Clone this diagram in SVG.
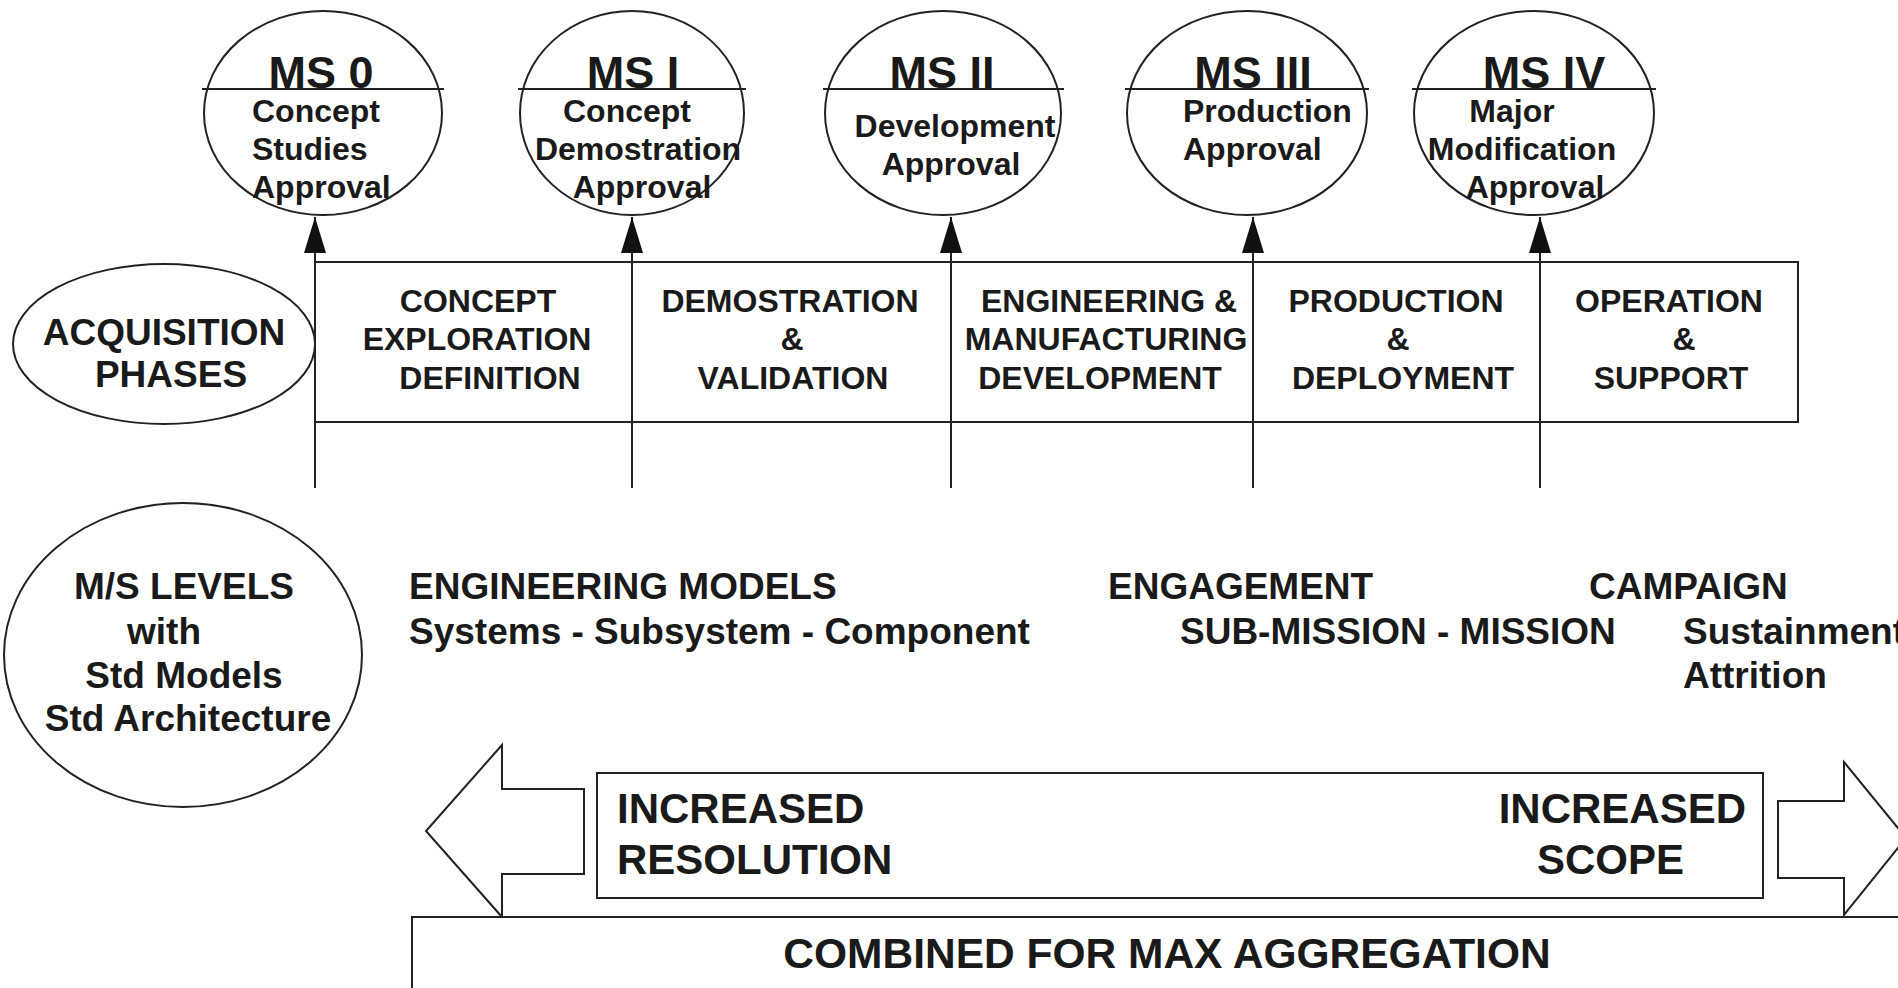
<svg xmlns="http://www.w3.org/2000/svg" width="1898" height="988" viewBox="0 0 1898 988">
<style>
.t{font-family:"Liberation Sans",Arial,Helvetica,sans-serif;font-weight:bold;fill:#1a1a1a}
.ms{font-size:45px;text-anchor:middle}
.sub{font-size:32px}
.c{text-anchor:middle}
.ph{font-size:32px;text-anchor:middle}
.lvl{font-size:37px;text-anchor:middle}
.mid{font-size:37px}
.big{font-size:42px}
.sh{fill:#fff;stroke:#222;stroke-width:2}
.ln{stroke:#222;stroke-width:2;fill:none}
</style>
<defs>
<marker id="ah" markerUnits="userSpaceOnUse" markerWidth="36" markerHeight="22" viewBox="0 0 36 22" refX="36" refY="11" orient="auto">
<path d="M0,0 L36,11 L0,22 z" fill="#111"/>
</marker>
</defs>
<rect width="1898" height="988" fill="#fff"/>

<g id="ms0">
<ellipse class="sh" cx="323" cy="113" rx="119" ry="102"/>
<line class="ln" x1="202" y1="89" x2="444" y2="89"/>
<text class="t ms" x="321" y="88">MS 0</text>
<text class="t sub" x="252" y="122">Concept</text>
<text class="t sub" x="252" y="160">Studies</text>
<text class="t sub" x="252" y="198">Approval</text>
</g>
<g id="ms1">
<ellipse class="sh" cx="632" cy="113" rx="112" ry="102"/>
<line class="ln" x1="518" y1="89" x2="746" y2="89"/>
<text class="t ms" x="633" y="88">MS I</text>
<text class="t sub c" x="627" y="122">Concept</text>
<text class="t sub c" x="638" y="160">Demostration</text>
<text class="t sub c" x="642" y="198">Approval</text>
</g>
<g id="ms2">
<ellipse class="sh" cx="943" cy="113" rx="118" ry="102"/>
<line class="ln" x1="823" y1="89" x2="1064" y2="89"/>
<text class="t ms" x="942" y="88">MS II</text>
<text class="t sub c" x="955" y="137">Development</text>
<text class="t sub c" x="951" y="175">Approval</text>
</g>
<g id="ms3">
<ellipse class="sh" cx="1247" cy="113" rx="120" ry="102"/>
<line class="ln" x1="1125" y1="89" x2="1369" y2="89"/>
<text class="t ms" x="1253" y="88">MS III</text>
<text class="t sub" x="1183" y="122">Production</text>
<text class="t sub" x="1183" y="160">Approval</text>
</g>
<g id="ms4">
<ellipse class="sh" cx="1534" cy="113" rx="120" ry="102"/>
<line class="ln" x1="1412" y1="89" x2="1656" y2="89"/>
<text class="t ms" x="1544" y="88">MS IV</text>
<text class="t sub c" x="1512" y="122">Major</text>
<text class="t sub c" x="1522" y="160">Modification</text>
<text class="t sub c" x="1535" y="198">Approval</text>
</g>

<g id="acquisition-phases">
<ellipse class="sh" cx="164" cy="344" rx="151" ry="80"/>
<text class="t lvl" x="164" y="345">ACQUISITION</text>
<text class="t lvl" x="171" y="387">PHASES</text>
</g>

<g id="phase-box">
<path class="ln" d="M315,262 H1798 V422 H315"/>
</g>
<g id="phase-concept">
<text class="t ph" x="478" y="312">CONCEPT</text>
<text class="t ph" x="477" y="350">EXPLORATION</text>
<text class="t ph" x="490" y="389">DEFINITION</text>
</g>
<g id="phase-demo">
<text class="t ph" x="790" y="312">DEMOSTRATION</text>
<text class="t ph" x="792" y="350">&amp;</text>
<text class="t ph" x="793" y="389">VALIDATION</text>
</g>
<g id="phase-emd">
<text class="t ph" x="1109" y="312">ENGINEERING &amp;</text>
<text class="t ph" x="1106" y="350">MANUFACTURING</text>
<text class="t ph" x="1100" y="389">DEVELOPMENT</text>
</g>
<g id="phase-prod">
<text class="t ph" x="1396" y="312">PRODUCTION</text>
<text class="t ph" x="1398" y="350">&amp;</text>
<text class="t ph" x="1403" y="389">DEPLOYMENT</text>
</g>
<g id="phase-ops">
<text class="t ph" x="1669" y="312">OPERATION</text>
<text class="t ph" x="1684" y="350">&amp;</text>
<text class="t ph" x="1671" y="389">SUPPORT</text>
</g>

<g id="connectors">
<line class="ln" x1="315" y1="488" x2="315" y2="217" marker-end="url(#ah)"/>
<line class="ln" x1="632" y1="488" x2="632" y2="217" marker-end="url(#ah)"/>
<line class="ln" x1="951" y1="488" x2="951" y2="217" marker-end="url(#ah)"/>
<line class="ln" x1="1253" y1="488" x2="1253" y2="217" marker-end="url(#ah)"/>
<line class="ln" x1="1540" y1="488" x2="1540" y2="217" marker-end="url(#ah)"/>
</g>

<g id="ms-levels">
<ellipse class="sh" cx="183" cy="655" rx="179" ry="152"/>
<text class="t lvl" x="184" y="599">M/S LEVELS</text>
<text class="t lvl" x="164" y="644">with</text>
<text class="t lvl" x="184" y="688">Std Models</text>
<text class="t lvl" x="188" y="731">Std Architecture</text>
</g>

<g id="engineering-models">
<text class="t mid" x="409" y="599">ENGINEERING MODELS</text>
<text class="t mid" x="409" y="644">Systems - Subsystem - Component</text>
</g>
<g id="engagement">
<text class="t mid" x="1108" y="599">ENGAGEMENT</text>
<text class="t mid" x="1180" y="644">SUB-MISSION - MISSION</text>
</g>
<g id="campaign">
<text class="t mid" x="1589" y="599">CAMPAIGN</text>
<text class="t mid" x="1683" y="644">Sustainment</text>
<text class="t mid" x="1683" y="688">Attrition</text>
</g>

<g id="resolution-arrow">
<polygon class="sh" points="584,789 502,789 502,745 426,831 502,917 502,874 584,874"/>
</g>
<g id="scope-arrow">
<polygon class="sh" points="1778,801 1844,801 1844,762 1906,838 1844,915 1844,878 1778,878"/>
</g>
<g id="increased-box">
<rect class="sh" x="597" y="773" width="1166" height="125"/>
<text class="t big" x="617" y="823">INCREASED</text>
<text class="t big" x="617" y="874">RESOLUTION</text>
<text class="t big" x="1746" y="823" text-anchor="end">INCREASED</text>
<text class="t big" x="1537" y="874">SCOPE</text>
</g>
<g id="combined">
<rect class="sh" x="412" y="917" width="1500" height="100"/>
<text class="t c" style="font-size:42.5px" x="1167" y="968">COMBINED FOR MAX AGGREGATION</text>
</g>
</svg>
